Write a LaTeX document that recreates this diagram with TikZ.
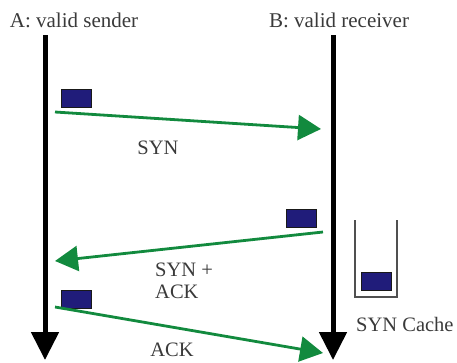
\documentclass[tikz,border=0pt]{standalone}
\usepackage{fontspec}
\setmainfont{Liberation Serif}
\usetikzlibrary{arrows.meta}
\definecolor{msggreen}{RGB}{18,138,62}
\definecolor{pktblue}{RGB}{32,28,122}
\definecolor{txtgray}{RGB}{58,58,58}
\definecolor{cachegray}{RGB}{80,80,80}
\begin{document}
\begin{tikzpicture}[x=1pt,y=-1pt,
  lifeline/.style={line width=5pt,black,-{Triangle[length=28pt,width=27pt]}},
  message/.style={line width=2.8pt,msggreen,-{Triangle[length=23pt,width=25pt]}},
  packet/.style={draw=black!90,line width=1pt,fill=pktblue,minimum width=30pt,minimum height=18pt,inner sep=0pt},
  label/.style={text=txtgray,font=\fontsize{20.5}{21.5}\selectfont,inner sep=0pt},
  title/.style={text=txtgray,font=\fontsize{21}{22}\selectfont,inner sep=0pt}]
\useasboundingbox (0,0) rectangle (457,362);

% party headings
\node[title] (tA) at (74,20) {A: valid sender};
\node[title] (tB) at (339,20) {B: valid receiver};

% lifelines
\coordinate (Atop) at (45,35);
\coordinate (Abot) at (45,360);
\coordinate (Btop) at (333,35);
\coordinate (Bbot) at (333,360);
\draw[lifeline] (Atop) -- (Abot);
\draw[lifeline] (Btop) -- (Bbot);

% SYN from A to B
\node[packet] (p1) at (76,98) {};
\coordinate (s1) at (55,112);
\coordinate (e1) at (321,129);
\draw[message] (s1) -- (e1);
\node[label] (lsyn) at (158,148) {SYN};

% SYN + ACK from B to A
\node[packet] (p2) at (301,218.5) {};
\coordinate (s2) at (323,232);
\coordinate (e2) at (55,261);
\draw[message] (s2) -- (e2);
\node[label,align=left,anchor=west] (lsynack) at (155,281) {SYN +\\ACK};

% ACK from A to B
\node[packet] (p3) at (76,299) {};
\coordinate (s3) at (55,307);
\coordinate (e3) at (323,353);
\draw[message] (s3) -- (e3);
\node[label] (lack) at (172,350) {ACK};

% SYN cache on the receiver side
\draw[cachegray,line width=1.5pt] (355,220) -- (355,297) -- (397,297) -- (397,220);
\node[packet] (p4) at (376,281.5) {};
\node[label,anchor=west] (lcache) at (356,324) {SYN Cache};
\end{tikzpicture}
\end{document}
